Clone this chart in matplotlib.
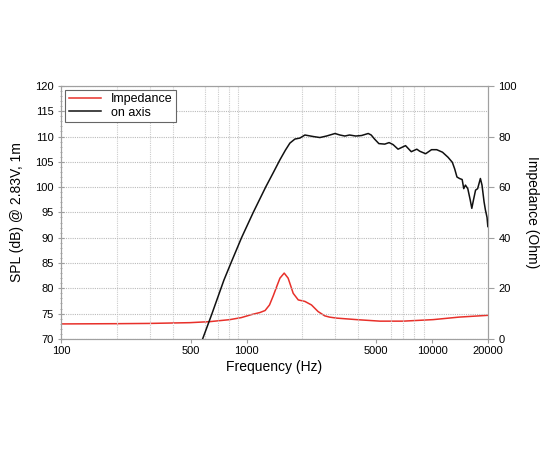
import numpy as np
import matplotlib
matplotlib.use("Agg")
import matplotlib.pyplot as plt
from matplotlib.ticker import FixedLocator, NullFormatter, MultipleLocator

plt.rcParams['font.family'] = ['Liberation Sans', 'DejaVu Sans']

# on-axis SPL (dB @ 2.83V, 1m)
spl_freq = [580, 650, 755, 824, 940, 1087, 1268, 1400, 1514, 1620, 1713, 1823, 1940, 2064,
            2290, 2486, 2700, 3000, 3187, 3390, 3590, 3880, 4170, 4530, 4700, 4900,
            5170, 5560, 5870, 6170, 6560, 7200, 7730, 8280, 8580, 9240, 9940, 10600,
            11390, 12200, 12870, 13250, 13630, 14070, 14540, 14830, 15140, 15590,
            16060, 16390, 16740, 17170, 17620, 18230, 18600, 19080, 19400, 19800, 20000]
spl_db = [70.0, 74.9, 81.6, 85.0, 90.0, 95.0, 100.0, 103.0, 105.4, 107.3, 108.7, 109.5, 109.7, 110.3,
          110.0, 109.8, 110.1, 110.6, 110.3, 110.1, 110.3, 110.1, 110.2, 110.6, 110.3, 109.5,
          108.6, 108.5, 108.8, 108.4, 107.5, 108.2, 107.0, 107.5, 107.1, 106.6, 107.4, 107.4,
          106.9, 105.9, 104.9, 103.6, 102.0, 101.7, 101.5, 99.7, 100.4, 99.7,
          97.5, 95.8, 97.5, 99.4, 99.7, 101.7, 100.4, 97.1, 95.5, 94.0, 92.2]

# impedance (Ohm)
imp_freq = [100, 200, 300, 495, 633, 813, 937, 1065, 1180, 1259, 1330, 1393, 1460, 1514,
            1596, 1676, 1730, 1785, 1900, 2064, 2240, 2430, 2640, 2800, 3058, 3920,
            5234, 7000, 10140, 14000, 20000]
imp_ohm = [5.9, 6.0, 6.1, 6.4, 6.8, 7.6, 8.4, 9.6, 10.4, 11.2, 13.4, 17.0, 21.0, 24.0,
           26.0, 24.0, 21.0, 18.0, 15.4, 14.8, 13.4, 10.8, 9.1, 8.6, 8.2, 7.6,
           7.0, 7.0, 7.6, 8.6, 9.3]

fig = plt.figure(figsize=(5.5, 4.5), dpi=100)
ax = fig.add_axes([0.111, 0.247, 0.776, 0.562])
ax2 = ax.twinx()

grey = '#a0a0a0'
ax.set_xscale('log')
ax.set_xlim(100, 20000)
ax.set_ylim(70, 120)
ax2.set_ylim(0, 100)

lab_ticks = [100, 500, 1000, 5000, 10000, 20000]
ax.xaxis.set_major_locator(FixedLocator(lab_ticks))
ax.set_xticklabels([str(t) for t in lab_ticks])
minor = [m * d for d in (100, 1000, 10000) for m in range(1, 10) if m * d <= 20000]
ax.xaxis.set_minor_locator(FixedLocator(minor))
ax.xaxis.set_minor_formatter(NullFormatter())
ax.yaxis.set_major_locator(MultipleLocator(5))
ax.yaxis.set_minor_locator(MultipleLocator(1))
ax2.yaxis.set_major_locator(MultipleLocator(20))

ax.grid(True, which='minor', axis='x', color='#cccccc', linestyle=(0, (1, 1)), linewidth=0.8)
ax.grid(True, which='major', axis='y', color='#bbbbbb', linestyle=(0, (1, 1)), linewidth=0.8)

ax.tick_params(axis='x', which='minor', length=0)
ax.tick_params(axis='x', which='major', length=3, color=grey, labelsize=8, pad=2)
ax.tick_params(axis='y', which='major', length=4, color=grey, labelsize=8, direction='inout')
ax.tick_params(axis='y', which='minor', length=2, color=grey, direction='inout')
ax2.tick_params(axis='y', length=4, color=grey, labelsize=8)
for a in (ax, ax2):
    for s in a.spines.values():
        s.set_color(grey)

l1, = ax2.plot(imp_freq, imp_ohm, color='#e8302a', linewidth=1.1, label='Impedance',
               solid_joinstyle='round')
l2, = ax.plot(spl_freq, spl_db, color='#111111', linewidth=1.1, label='on axis',
              solid_joinstyle='round')
ax.set_zorder(ax2.get_zorder() + 1)
ax.patch.set_visible(False)

ax.set_xlabel('Frequency (Hz)', fontsize=10, labelpad=3)
ax.set_ylabel('SPL (dB) @ 2.83V, 1m', fontsize=10, labelpad=8)
ax2.set_ylabel('Impedance (Ohm)', fontsize=10, rotation=270, labelpad=16)

leg = ax.legend(handles=[l1, l2], loc='upper left', fontsize=9, fancybox=False,
                borderaxespad=0.3, handlelength=2.6, borderpad=0.3, labelspacing=0.1,
                framealpha=1)
leg.get_frame().set_edgecolor('#666666')
leg.get_frame().set_linewidth(0.8)

fig.savefig('out.png', dpi=100)
